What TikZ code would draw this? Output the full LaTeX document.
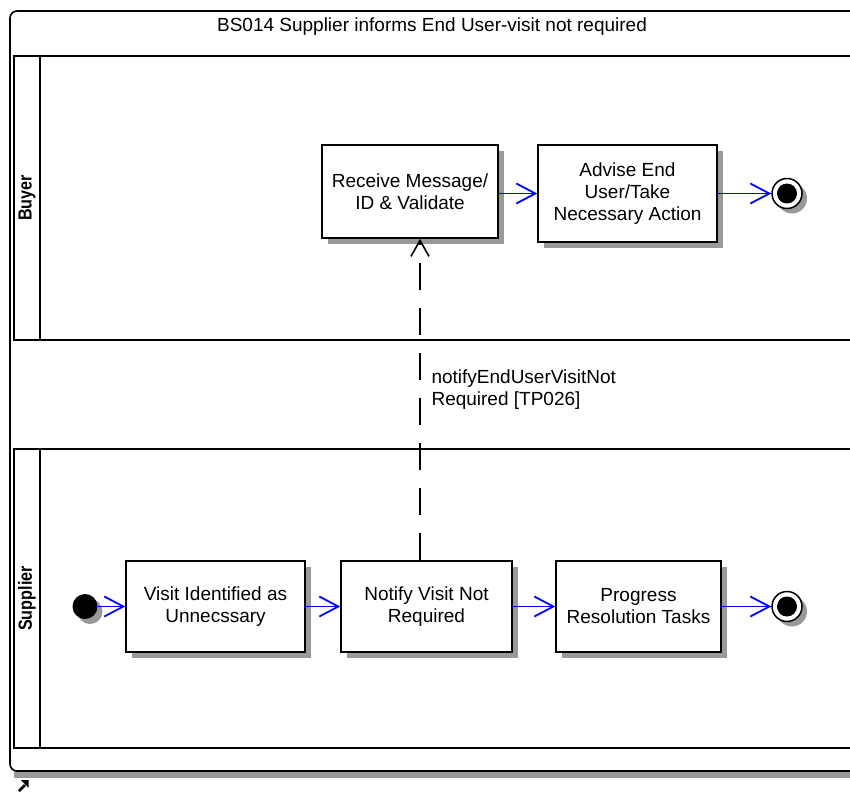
\documentclass[tikz,border=0pt]{standalone}
\usepackage{fontspec}
\setmainfont{Liberation Sans}
\usetikzlibrary{arrows.meta,shadows}

\begin{document}
\begin{tikzpicture}[x=1pt,y=-1pt,
every node/.style={font=\fontsize{19}{22}\selectfont},
activity/.style={draw,fill=white,line width=1.5pt,align=center,inner sep=0pt,
  drop shadow={shadow xshift=6pt,shadow yshift=-6pt,fill=black!40,opacity=1}},
endstate/.style={circle,draw,fill=white,line width=1.5pt,minimum size=30pt,inner sep=0pt,
  drop shadow={shadow xshift=5pt,shadow yshift=-5pt,fill=black!40,opacity=1}},
startstate/.style={circle,fill=black,minimum size=25pt,inner sep=0pt,
  drop shadow={shadow xshift=5pt,shadow yshift=-5pt,fill=black!40,opacity=1}},
flow/.style={draw=blue,line width=1.8pt,-{Straight Barb[length=19pt,width=20pt,line width=1.8pt]}},
message/.style={line width=1.6pt,dash pattern=on 27pt off 18pt,-{Straight Barb[length=16pt,width=18pt,line width=1.6pt]}},
lanelabel/.style={draw,line width=1.5pt,rotate=90,inner sep=0pt,minimum height=26pt,
  font=\bfseries\fontsize{19}{22}\selectfont},
lane/.style={line width=1.6pt}]
\clip (0,0) rectangle (850,792);
\fill [black!40] (14,766) rectangle (880,778);
\draw [line width=1.6pt,rounded corners=7pt,fill=white] (10,11) rectangle (875,771);
\node (title) at (432,27) {BS014 Supplier informs End User-visit not required};
\node [lanelabel,minimum width=284pt] (buyerlane) at (27,198) {\scalebox{0.85}[1]{Buyer}};
\draw [lane] (40,56) -- (880,56);
\draw [lane] (40,340) -- (880,340);
\node [lanelabel,minimum width=299pt] (supplierlane) at (27,598.5) {\scalebox{0.85}[1]{Supplier}};
\draw [lane] (40,449) -- (880,449);
\draw [lane] (40,748) -- (880,748);
\node [activity,minimum width=176pt,minimum height=93pt] (receive) at (410,191.5) {Receive Message/\\ID \& Validate};
\node [activity,minimum width=179pt,minimum height=97pt] (advise) at (627.5,193.5) {Advise End\\User/Take\\Necessary Action};
\node [endstate] (buyerend) at (787,193.5) {};
\fill (buyerend.center) circle (10);
\node [startstate] (start) at (85,606.5) {};
\node [activity,minimum width=179pt,minimum height=91pt] (visit) at (215.5,606.5) {Visit Identified as\\Unnecssary};
\node [activity,minimum width=171pt,minimum height=91pt] (notify) at (426.5,606.5) {Notify Visit Not\\Required};
\node [activity,minimum width=165pt,minimum height=91pt] (progress) at (638.5,606.5) {Progress\\Resolution Tasks};
\node [endstate] (supplierend) at (787,606.5) {};
\fill (supplierend.center) circle (10);
\draw [flow] (receive.east |- advise) -- (advise.west);
\draw [flow] (advise) -- (buyerend);
\draw [flow] (start) -- (visit);
\draw [flow] (visit) -- (notify);
\draw [flow] (notify) -- (progress);
\draw [flow] (progress) -- (supplierend);
\coordinate (msgx) at (420,0);
\draw [message] (notify.north -| msgx) -- (receive.south -| msgx);
\node [anchor=west,align=left] (msglabel) at (428,389.5) {notifyEndUserVisitNot\\Required [TP026]};
\draw [line width=2.5pt] (19,791) -- (25,785);
\fill (21,780) -- (28.5,780) -- (28.5,787.5) -- cycle;
\end{tikzpicture}
\end{document}
